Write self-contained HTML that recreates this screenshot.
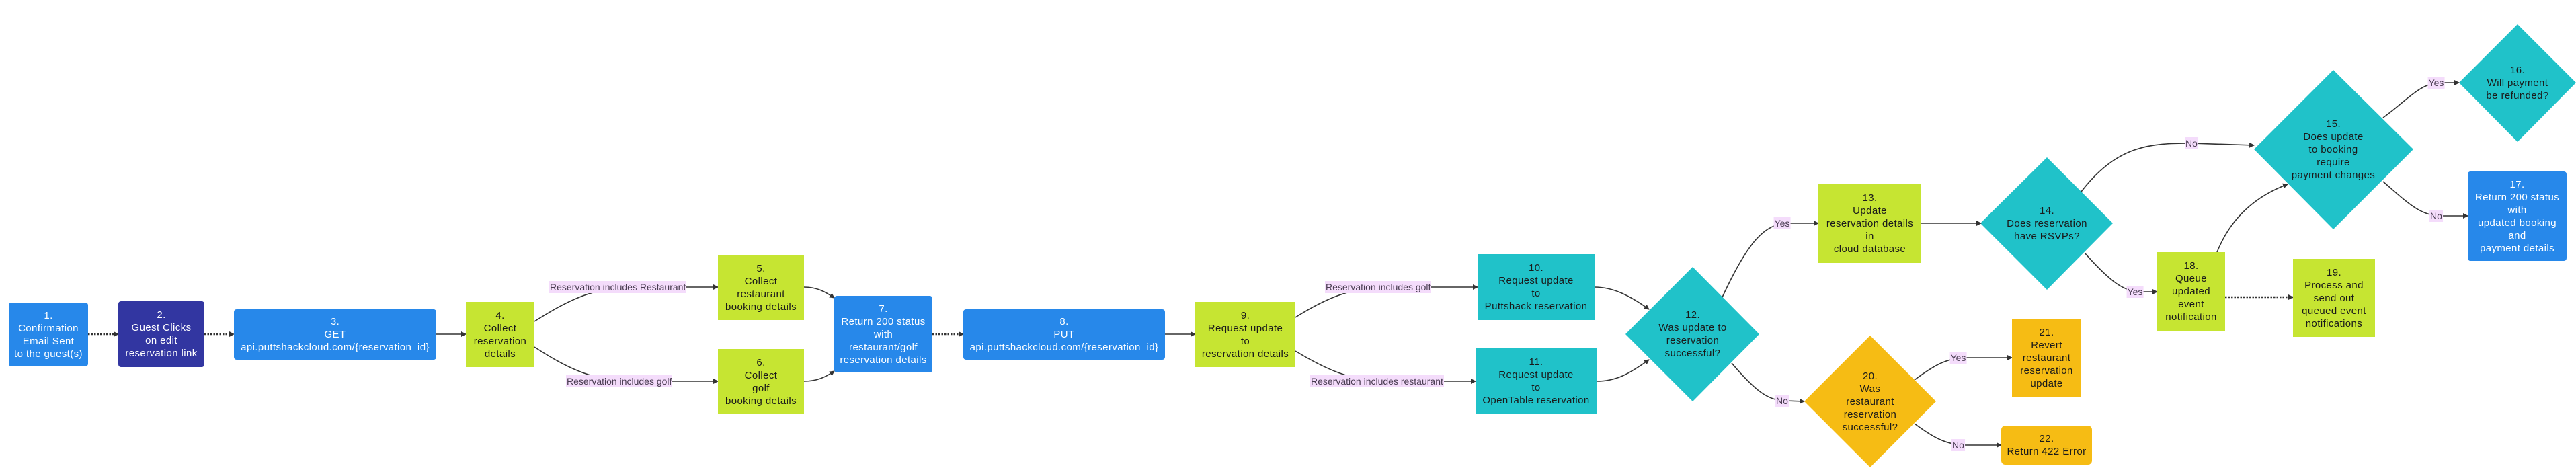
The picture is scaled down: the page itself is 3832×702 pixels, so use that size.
<!DOCTYPE html>
<html><head><meta charset="utf-8">
<style>
html,body{margin:0;padding:0;background:#fff;}
#c{position:relative;width:3832px;height:702px;overflow:hidden;background:#fff;font-family:"Liberation Sans",sans-serif;}
.n{position:absolute;display:flex;align-items:center;justify-content:center;text-align:center;font-size:15px;line-height:19px;letter-spacing:0.4px;box-sizing:border-box;}
.blue{background:#2788ea;color:#fff;border-radius:4px;}
.ind{background:#3236a1;color:#fff;border-radius:4px;}
.lime{background:#c6e532;color:#1a1a1a;}
.teal{background:#20c2c9;color:#1a1a1a;}
.amb{background:#f6bc14;color:#1a1a1a;}
.amr{background:#f6bc14;color:#1a1a1a;border-radius:6px;}
.t{position:absolute;display:flex;align-items:center;justify-content:center;text-align:center;font-size:15px;line-height:19px;letter-spacing:0.4px;color:#1a1a1a;}
.lb{position:absolute;background:#f4dcfb;color:#4a3d52;font-size:14px;line-height:18px;padding:0 1px;transform:translateY(-50%);white-space:nowrap;}
.lc{transform:translate(-50%,-50%);}
svg{position:absolute;left:0;top:0;}
</style></head><body><div id="c">
<svg width="3832" height="702">
<defs><marker id="a" markerWidth="8" markerHeight="8" refX="7" refY="4" orient="auto" markerUnits="userSpaceOnUse"><path d="M0,0 L8,4 L0,8 z" fill="#333"/></marker></defs>
<g fill="#20c2c9">
<polygon points="2518,397 2617,497 2518,597 2418,497"/>
<polygon points="3045,234 3143,332 3045,431 2946,332"/>
<polygon points="3471,104 3590,222 3471,341 3353,222"/>
<polygon points="3745,36 3832,123 3745,211 3658,123"/>
</g>
<polygon points="2782,499 2880,597 2782,695 2684,597" fill="#f6bc14"/>
<g fill="none" stroke="#333" stroke-width="1.6" marker-end="url(#a)">
<path d="M131,497 L176,497" stroke-dasharray="2.5 2" stroke-width="2.5"/>
<path d="M304,497 L348,497" stroke-dasharray="2.5 2" stroke-width="2.5"/>
<path d="M649,497 L693,497"/>
<path d="M795,478 C840,450 880,427 940,427 L1068,427"/>
<path d="M795,516 C840,545 880,567 940,567 L1068,567"/>
<path d="M1196,427 C1215,427 1228,434 1241,443"/>
<path d="M1196,567 C1215,567 1228,561 1241,552"/>
<path d="M1387,497 L1433,497" stroke-dasharray="2.5 2" stroke-width="2.5"/>
<path d="M1733,497 L1778,497"/>
<path d="M1927,472 C1970,445 2010,427 2060,427 L2198,427"/>
<path d="M1927,522 C1970,548 2010,567 2060,567 L2195,567"/>
<path d="M2372,427 C2400,427 2425,440 2453,460"/>
<path d="M2375,567 C2405,567 2425,555 2453,535"/>
<path d="M2562,442 C2600,360 2625,332 2660,332 L2705,332"/>
<path d="M2858,332 L2947,332"/>
<path d="M2576,540 C2610,580 2630,596 2655,596 L2684,597"/>
<path d="M2848,565 C2875,545 2895,532 2925,532 L2993,532"/>
<path d="M2848,630 C2875,650 2895,662 2925,662 L2977,662"/>
<path d="M3096,285 C3150,215 3200,213 3260,213 L3353,216"/>
<path d="M3101,376 C3140,420 3160,434 3185,434 L3209,434"/>
<path d="M3310,442 L3411,442" stroke-dasharray="2.5 2" stroke-width="2.5"/>
<path d="M3298,375 C3320,320 3360,290 3403,274"/>
<path d="M3545,175 C3580,150 3600,123 3630,123 L3658,123"/>
<path d="M3545,270 C3580,300 3600,321 3630,321 L3671,321"/>
</g>
</svg>

<div class="n blue" style="left:13px;top:450px;width:118px;height:95px;">1.<br>Confirmation<br>Email Sent<br>to the guest(s)</div>
<div class="n ind" style="left:176px;top:448px;width:128px;height:98px;">2.<br>Guest Clicks<br>on edit<br>reservation link</div>
<div class="n blue" style="left:348px;top:460px;width:301px;height:75px;">3.<br>GET<br>api.puttshackcloud.com/{reservation_id}</div>
<div class="n lime" style="left:693px;top:449px;width:102px;height:97px;">4.<br>Collect<br>reservation<br>details</div>
<div class="n lime" style="left:1068px;top:379px;width:128px;height:97px;">5.<br>Collect<br>restaurant<br>booking details</div>
<div class="n lime" style="left:1068px;top:519px;width:128px;height:97px;">6.<br>Collect<br>golf<br>booking details</div>
<div class="n blue" style="left:1241px;top:440px;width:146px;height:114px;">7.<br>Return 200 status<br>with<br>restaurant/golf<br>reservation details</div>
<div class="n blue" style="left:1433px;top:460px;width:300px;height:75px;">8.<br>PUT<br>api.puttshackcloud.com/{reservation_id}</div>
<div class="n lime" style="left:1778px;top:449px;width:149px;height:97px;">9.<br>Request update<br>to<br>reservation details</div>
<div class="n teal" style="left:2198px;top:378px;width:174px;height:98px;">10.<br>Request update<br>to<br>Puttshack reservation</div>
<div class="n teal" style="left:2195px;top:518px;width:180px;height:98px;">11.<br>Request update<br>to<br>OpenTable reservation</div>
<div class="t" style="left:2438px;top:447px;width:160px;height:100px;">12.<br>Was update to<br>reservation<br>successful?</div>
<div class="n lime" style="left:2705px;top:274px;width:153px;height:117px;">13.<br>Update<br>reservation details<br>in<br>cloud database</div>
<div class="t" style="left:2960px;top:302px;width:170px;height:60px;">14.<br>Does reservation<br>have RSVPs?</div>
<div class="t" style="left:3380px;top:172px;width:182px;height:100px;">15.<br>Does update<br>to booking<br>require<br>payment changes</div>
<div class="t" style="left:3670px;top:93px;width:150px;height:60px;">16.<br>Will payment<br>be refunded?</div>
<div class="n blue" style="left:3671px;top:255px;width:147px;height:133px;">17.<br>Return 200 status<br>with<br>updated booking<br>and<br>payment details</div>
<div class="n lime" style="left:3209px;top:375px;width:101px;height:117px;">18.<br>Queue<br>updated<br>event<br>notification</div>
<div class="n lime" style="left:3411px;top:385px;width:122px;height:116px;">19.<br>Process and<br>send out<br>queued event<br>notifications</div>
<div class="t" style="left:2712px;top:547px;width:140px;height:100px;">20.<br>Was<br>restaurant<br>reservation<br>successful?</div>
<div class="n amb" style="left:2993px;top:474px;width:103px;height:116px;">21.<br>Revert<br>restaurant<br>reservation<br>update</div>
<div class="n amr" style="left:2977px;top:633px;width:135px;height:58px;">22.<br>Return 422 Error</div>

<div class="lb" style="left:817px;top:427px;">Reservation includes Restaurant</div>
<div class="lb" style="left:842px;top:567px;">Reservation includes golf</div>
<div class="lb" style="left:1971px;top:427px;">Reservation includes golf</div>
<div class="lb" style="left:1949px;top:567px;">Reservation includes restaurant</div>
<div class="lb lc" style="left:2651px;top:332px;">Yes</div>
<div class="lb lc" style="left:2651px;top:596px;">No</div>
<div class="lb lc" style="left:2913px;top:532px;">Yes</div>
<div class="lb lc" style="left:2913px;top:662px;">No</div>
<div class="lb lc" style="left:3260px;top:213px;">No</div>
<div class="lb lc" style="left:3176px;top:434px;">Yes</div>
<div class="lb lc" style="left:3624px;top:123px;">Yes</div>
<div class="lb lc" style="left:3624px;top:321px;">No</div>
</div></body></html>
